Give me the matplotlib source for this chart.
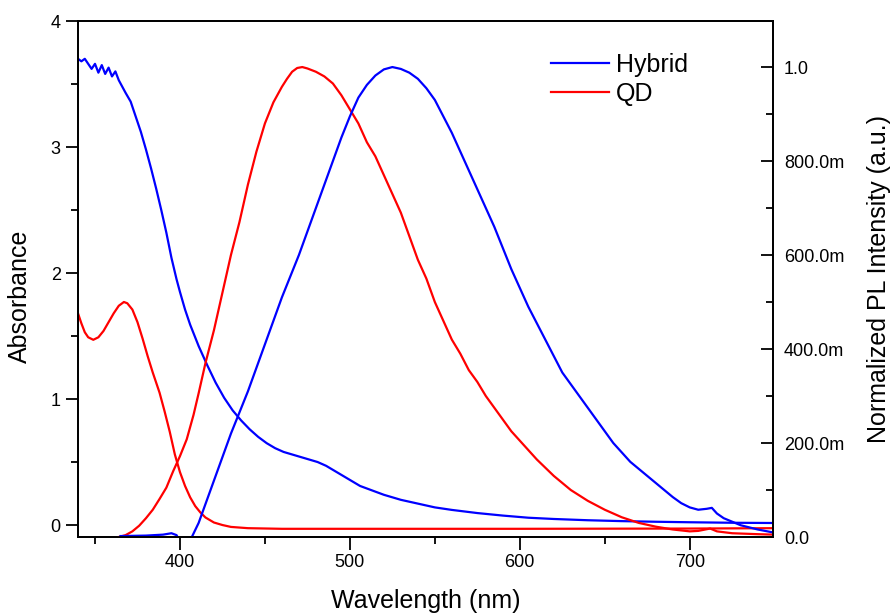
import numpy as np
import matplotlib
matplotlib.use("Agg")
import matplotlib.pyplot as plt
from matplotlib.ticker import MultipleLocator, FixedLocator, FixedFormatter

plt.rcParams["font.family"] = ["Liberation Sans", "DejaVu Sans"]

# absorbance, hybrid (left axis)
hyb_abs_wl = [340, 342, 344, 346, 348, 350, 352, 354, 356, 358, 360, 362, 364, 366, 368,
              371, 374, 377, 380, 383, 386, 389, 392, 395, 398, 400, 403, 406, 411, 416,
              421, 426, 431, 436, 441, 446, 451, 456, 461, 466, 471, 476, 481, 486, 491,
              496, 501, 506, 512, 520, 530, 540, 550, 560, 575, 590, 605, 620, 640, 660,
              680, 700, 725, 750]
hyb_abs = [3.70, 3.68, 3.70, 3.66, 3.62, 3.66, 3.59, 3.65, 3.58, 3.63, 3.56, 3.60, 3.53, 3.48, 3.43,
           3.36, 3.24, 3.12, 2.98, 2.83, 2.67, 2.50, 2.32, 2.12, 1.95, 1.85, 1.71, 1.59, 1.42, 1.27,
           1.13, 1.01, 0.91, 0.83, 0.76, 0.70, 0.65, 0.61, 0.58, 0.56, 0.54, 0.52, 0.50, 0.47, 0.43,
           0.39, 0.35, 0.31, 0.28, 0.24, 0.20, 0.17, 0.14, 0.12, 0.095, 0.075, 0.058, 0.048, 0.038, 0.031,
           0.026, 0.022, 0.018, 0.016]

# absorbance, QD (left axis)
qd_abs_wl = [340, 342, 344, 346, 349, 352, 355, 358, 361, 364, 367, 369, 372, 375, 378,
             381, 384, 388, 391, 394, 397, 400, 403, 406, 409, 412, 415, 420, 425, 430,
             440, 460, 500, 600, 700, 750]
qd_abs = [1.68, 1.60, 1.53, 1.49, 1.47, 1.49, 1.54, 1.61, 1.68, 1.74, 1.77, 1.76, 1.71, 1.61, 1.48,
          1.34, 1.21, 1.05, 0.90, 0.74, 0.56, 0.42, 0.31, 0.22, 0.15, 0.10, 0.06, 0.02, 0.00, -0.015,
          -0.025, -0.03, -0.03, -0.03, -0.028, -0.025]

# normalized PL, QD (right axis)
qd_pl_wl = [364, 368, 372, 376, 380, 384, 388, 392, 396, 400, 404, 408, 411, 415, 420,
            425, 430, 435, 440, 445, 450, 455, 460, 463, 466, 469, 472, 475, 480, 485, 490, 495,
            500, 505, 510, 515, 520, 525, 530, 535, 540, 545, 550, 555, 560, 565, 570,
            575, 580, 585, 590, 595, 600, 610, 620, 630, 640, 650, 660, 670, 680, 690,
            700, 705, 712, 716, 725, 740, 750]
qd_pl = [0.0, 0.004, 0.012, 0.024, 0.040, 0.058, 0.081, 0.105, 0.140, 0.172, 0.208, 0.260, 0.306, 0.37, 0.44,
         0.52, 0.60, 0.67, 0.75, 0.82, 0.88, 0.925, 0.958, 0.975, 0.99, 0.998, 1.0, 0.997, 0.99, 0.98, 0.965, 0.94,
         0.91, 0.88, 0.84, 0.81, 0.77, 0.73, 0.69, 0.64, 0.59, 0.55, 0.50, 0.46, 0.42, 0.39, 0.355,
         0.33, 0.30, 0.275, 0.25, 0.225, 0.205, 0.165, 0.13, 0.10, 0.077, 0.058, 0.042, 0.030, 0.022, 0.016,
         0.012, 0.013, 0.018, 0.012, 0.008, 0.006, 0.005]

# normalized PL, hybrid (right axis)
hyb_pl_wl = [365, 380, 390, 395, 398, 400, 405, 407, 409, 411, 420, 430, 440, 450, 460,
             470, 478, 485, 490, 495, 500, 505, 510, 515, 520, 525, 530, 535, 540, 545,
             550, 555, 560, 565, 570, 575, 580, 585, 590, 595, 600, 605, 610, 615, 620,
             625, 630, 635, 640, 645, 650, 655, 660, 665, 670, 675, 680, 685, 690, 695,
             700, 705, 710, 713, 716, 720, 730, 740, 750]
hyb_pl = [0.002, 0.003, 0.005, 0.008, 0.004, -0.01, -0.01, 0.0, 0.015, 0.03, 0.12, 0.22, 0.31, 0.41, 0.51,
          0.60, 0.68, 0.75, 0.80, 0.85, 0.895, 0.935, 0.962, 0.982, 0.995, 1.0, 0.996, 0.988, 0.975, 0.955,
          0.93, 0.895, 0.86, 0.82, 0.78, 0.74, 0.70, 0.66, 0.615, 0.57, 0.53, 0.49, 0.455, 0.42, 0.385,
          0.35, 0.325, 0.30, 0.275, 0.25, 0.225, 0.20, 0.18, 0.16, 0.145, 0.13, 0.115, 0.10, 0.085, 0.072,
          0.063, 0.058, 0.06, 0.062, 0.05, 0.04, 0.025, 0.016, 0.009]

pl_ticks = [0.0, 0.2, 0.4, 0.6, 0.8, 1.0]
pl_labels = ["0.0", "200.0m", "400.0m", "600.0m", "800.0m", "1.0"]

blue = "#0000FF"
red = "#FF0000"

fig = plt.figure(figsize=(8.91, 6.16), dpi=100)
ax = fig.add_axes([78 / 891, 1 - 537 / 616, 695 / 891, 516 / 616])
ax2 = ax.twinx()

l1, = ax.plot(hyb_abs_wl, hyb_abs, color=blue, lw=1.6, label="Hybrid")
l2, = ax.plot(qd_abs_wl, qd_abs, color=red, lw=1.6, label="QD")
ax2.plot(qd_pl_wl, qd_pl, color=red, lw=1.6)
ax2.plot(hyb_pl_wl, hyb_pl, color=blue, lw=1.6)

ax.set_xlim(340, 749)
ax.set_ylim(-0.095, 4.0)
ax2.set_ylim(0, 1.098)

for a in (ax, ax2):
    for s in a.spines.values():
        s.set_linewidth(1.3)

ax.xaxis.set_major_locator(MultipleLocator(100))
ax.xaxis.set_minor_locator(MultipleLocator(50))
ax.yaxis.set_major_locator(MultipleLocator(1))
ax.yaxis.set_minor_locator(MultipleLocator(0.5))
ax.tick_params(which="major", direction="out", length=9, width=1.3, labelsize=13)
ax.tick_params(which="minor", direction="out", length=5, width=1.3)
ax.tick_params(top=False, right=False)

ax2.yaxis.set_major_locator(FixedLocator(pl_ticks))
ax2.yaxis.set_major_formatter(FixedFormatter(pl_labels))
ax2.yaxis.set_minor_locator(MultipleLocator(0.1))
ax2.tick_params(which="major", direction="in", length=9, width=1.3, labelsize=13, pad=8)
ax2.tick_params(which="minor", direction="in", length=5, width=1.3)

ax.set_xlabel("Wavelength (nm)", fontsize=18, labelpad=13)
ax.set_ylabel("Absorbance", fontsize=18)
ax.yaxis.set_label_coords(-0.066, 0.467)
ax2.set_ylabel("Normalized PL Intensity (a.u.)", fontsize=18, labelpad=16)

fig.legend(handles=[l1, l2], loc="upper left", bbox_to_anchor=(551 / 891, 1 - 53 / 616),
           frameon=False, fontsize=18, handlelength=2.3, handletextpad=0.3,
           borderpad=0, borderaxespad=0, labelspacing=0.18)

fig.savefig("out.png", dpi=100)
